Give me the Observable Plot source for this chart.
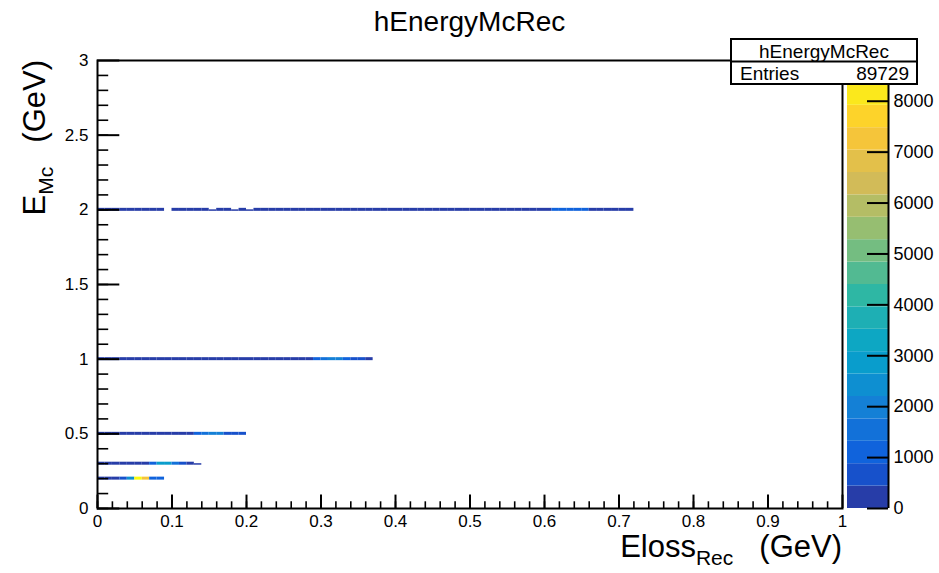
<!DOCTYPE html>
<html>
<head>
<meta charset="utf-8">
<script src="https://cdn.jsdelivr.net/npm/d3@7"></script>
<script src="https://cdn.jsdelivr.net/npm/@observablehq/plot@0.6"></script>
<style>
  body { margin: 0; background: #fff; }
  #chart { position: relative; width: 939px; height: 573px; font-family: "Liberation Sans", Arial, Helvetica, sans-serif; }
  #chart svg { position: absolute; left: 0; top: 0; overflow: visible; }
</style>
</head>
<body>
<div id="chart"></div>
<script>
// ---- Histogram contents -------------------------------------------------
// Monte Carlo energy bands (GeV) of the simulated particles
const bandEnergy = [0.2, 0.3, 0.5, 1, 2];
// Entries per 0.01 GeV bin of reconstructed energy loss, starting at 0 GeV
const counts02 = [320, 340, 390, 560, 2450, 8800, 7300, 1300, 1150];
const counts03 = [290, 300, 310, 330, 340, 350, 370, 1250, 2900, 3050, 1350, 620, 430, 380];
const counts05 = [280, 290, 300, 300, 310, 310, 320, 320, 330, 330, 340, 350, 370, 1300, 1450, 2050, 1950, 620, 560, 500];
const counts1 = [260, 270, 270, 280, 280, 290, 290, 290, 300, 300,
                 300, 310, 310, 310, 320, 320, 320, 330, 330, 330,
                 340, 340, 350, 350, 360, 370, 380, 390, 410, 1200,
                 1350, 1900, 1800, 1150, 520, 460, 400];
const counts2 = [210, 220, 220, 230, 230, 240, 240, 250, 250, 0,
                 250, 260, 260, 260, 270, 270, 270, 280, 280, 280,
                 290, 290, 290, 300, 300, 300, 300, 310, 310, 310,
                 310, 320, 320, 320, 320, 330, 330, 330, 330, 340,
                 340, 340, 340, 350, 350, 350, 360, 360, 360, 370,
                 370, 370, 380, 380, 390, 390, 400, 400, 410, 420,
                 430, 950, 1050, 1100, 1050, 950, 420, 400, 390, 380,
                 370, 360];
// Eloss bins where only the E_Mc bin just below the band energy is filled
const lowerOnly03 = [13];
const lowerOnly2 = [15, 18, 20];

const entries = 89729;
const histName = "hEnergyMcRec";

// Axis ticks
const xMajor = [0, 0.1, 0.2, 0.3, 0.4, 0.5, 0.6, 0.7, 0.8, 0.9, 1];
const yMajor = [0, 0.5, 1, 1.5, 2, 2.5, 3];
const zTicks = [0, 1000, 2000, 3000, 4000, 5000, 6000, 7000, 8000];

// ---- Binning and colour palette ----------------------------------------
const binX = 0.01, binY = 0.01;
const zMax = 8800, nLevels = 20;

// ROOT "kBird" palette stops
const birdStops = [0.0, 0.125, 0.25, 0.375, 0.5, 0.625, 0.75, 0.875, 1.0];
const birdR = [0.2082, 0.0592, 0.0780, 0.0232, 0.1802, 0.5301, 0.8186, 0.9956, 0.9764];
const birdG = [0.1664, 0.3599, 0.5041, 0.6419, 0.7178, 0.7492, 0.7328, 0.7862, 0.9832];
const birdB = [0.5293, 0.8684, 0.8385, 0.7914, 0.6425, 0.4662, 0.3499, 0.1968, 0.0539];
const bird = d3.scaleLinear()
  .domain(birdStops)
  .range(birdStops.map((_, i) => d3.rgb(birdR[i] * 255, birdG[i] * 255, birdB[i] * 255).toString()))
  .interpolate(d3.interpolateRgb);
const dz = zMax / nLevels;
const levelEdges = d3.range(1, nLevels).map(i => i * dz);
const levelColors = d3.range(nLevels).map(i => bird(Math.floor((i + 0.99) * 255 / nLevels) / 254));
const levels = d3.range(nLevels).map(i => ({lo: i * dz, hi: (i + 1) * dz}));

const bands = [
  {energy: bandEnergy[0], counts: counts02, lowerOnly: []},
  {energy: bandEnergy[1], counts: counts03, lowerOnly: lowerOnly03},
  {energy: bandEnergy[2], counts: counts05, lowerOnly: []},
  {energy: bandEnergy[3], counts: counts1, lowerOnly: []},
  {energy: bandEnergy[4], counts: counts2, lowerOnly: lowerOnly2}
];
const cells = bands.flatMap(b => b.counts.flatMap((c, i) => c > 0 ? [{
  x1: i * binX,
  x2: (i + 1) * binX,
  y1: b.energy - binY,
  y2: b.lowerOnly.includes(i) ? b.energy : b.energy + binY,
  count: c
}] : []));

// ---- Layout -------------------------------------------------------------
const W = 939, H = 573;
const mL = 97, mR = 97, mT = 60, mB = 65;
const frameW = W - mL - mR, frameH = H - mT - mB;
const font = '"Liberation Sans", Arial, Helvetica, sans-serif';
const fmt = d => String(d);
const colorScale = {type: "threshold", domain: levelEdges, range: levelColors};

const main = Plot.plot({
  width: W, height: H,
  marginLeft: mL, marginRight: mR, marginTop: mT, marginBottom: mB,
  style: {background: "none", fontFamily: font, fontSize: "17px", color: "black"},
  x: {domain: [0, 1], label: null},
  y: {domain: [0, 3], label: null},
  color: colorScale,
  marks: [
    Plot.rect(cells, {x1: "x1", x2: "x2", y1: "y1", y2: "y2", fill: "count"}),
    Plot.tickX(xMajor, {x: d => d, stroke: "black", strokeWidth: 2, insetTop: frameH - 13.4}),
    Plot.tickX(d3.range(0, 50).map(i => i * 0.02), {x: d => d, stroke: "black", strokeWidth: 1.6, insetTop: frameH - 6.7}),
    Plot.tickY(yMajor, {y: d => d, stroke: "black", strokeWidth: 2, insetRight: frameW - 22.3}),
    Plot.tickY(d3.range(0, 30).map(i => i * 0.1), {y: d => d, stroke: "black", strokeWidth: 1.6, insetRight: frameW - 11.2}),
    Plot.axisX({ticks: xMajor, tickSize: 0, tickPadding: 6, tickFormat: fmt, label: null}),
    Plot.axisY({ticks: yMajor, tickSize: 0, tickPadding: 9, tickFormat: fmt, label: null}),
    Plot.frame({stroke: "black", strokeWidth: 2})
  ]
});

// Colour bar (palette axis) on the right of the frame
const pX1 = 847, pX2 = 888;
const bar = Plot.plot({
  width: W, height: H,
  marginLeft: pX1, marginRight: W - pX2, marginTop: mT, marginBottom: mB,
  style: {background: "none", fontFamily: font, fontSize: "18px", color: "black"},
  x: {domain: [0, 1], axis: null},
  y: {domain: [0, zMax], label: null, axis: null},
  color: colorScale,
  marks: [
    Plot.rect(levels, {x1: 0, x2: 1, y1: "lo", y2: "hi", fill: "lo"}),
    Plot.tickY(zTicks, {y: d => d, stroke: "black", strokeWidth: 2, insetLeft: 20}),
    Plot.ruleX([1], {stroke: "black", strokeWidth: 2}),
    Plot.axisY({anchor: "right", ticks: zTicks, tickSize: 0, tickPadding: 5, tickFormat: fmt, label: null})
  ]
});

// Titles and statistics box
const over = d3.create("svg")
  .attr("width", W).attr("height", H)
  .attr("viewBox", `0 0 ${W} ${H}`)
  .style("font-family", font);

over.append("text")
  .attr("x", 469.5).attr("y", 31)
  .attr("text-anchor", "middle")
  .style("font-size", "28px")
  .text(histName);

const xt = over.append("text")
  .attr("x", mL + frameW).attr("y", 557)
  .attr("text-anchor", "end")
  .style("font-size", "31px");
xt.append("tspan").text("Eloss");
xt.append("tspan").attr("dy", 8).style("font-size", "21px").text("Rec");
xt.append("tspan").attr("dy", -8).attr("dx", 26).text("(GeV)");

const yt = over.append("text")
  .attr("transform", `translate(45,${mT}) rotate(-90)`)
  .attr("text-anchor", "end")
  .style("font-size", "31px");
yt.append("tspan").text("E");
yt.append("tspan").attr("dy", 8).style("font-size", "21px").text("Mc");
yt.append("tspan").attr("dy", -8).attr("dx", 24).text("(GeV)");

const sx1 = 731, sx2 = 917, sy1 = 39, sy2 = 84, sMid = 61.5;
over.append("rect")
  .attr("x", sx1).attr("y", sy1).attr("width", sx2 - sx1).attr("height", sy2 - sy1)
  .attr("fill", "white").attr("stroke", "black").attr("stroke-width", 2);
over.append("line")
  .attr("x1", sx1).attr("x2", sx2).attr("y1", sMid).attr("y2", sMid)
  .attr("stroke", "black").attr("stroke-width", 2);
over.append("text")
  .attr("x", (sx1 + sx2) / 2).attr("y", 57.5)
  .attr("text-anchor", "middle").style("font-size", "19px")
  .text(histName);
over.append("text")
  .attr("x", sx1 + 9).attr("y", 79.5)
  .style("font-size", "19px")
  .text("Entries");
over.append("text")
  .attr("x", sx2 - 8).attr("y", 79.5)
  .attr("text-anchor", "end").style("font-size", "19px")
  .text(String(entries));

const chart = document.getElementById("chart");
chart.appendChild(main);
chart.appendChild(bar);
chart.appendChild(over.node());
</script>
</body>
</html>
